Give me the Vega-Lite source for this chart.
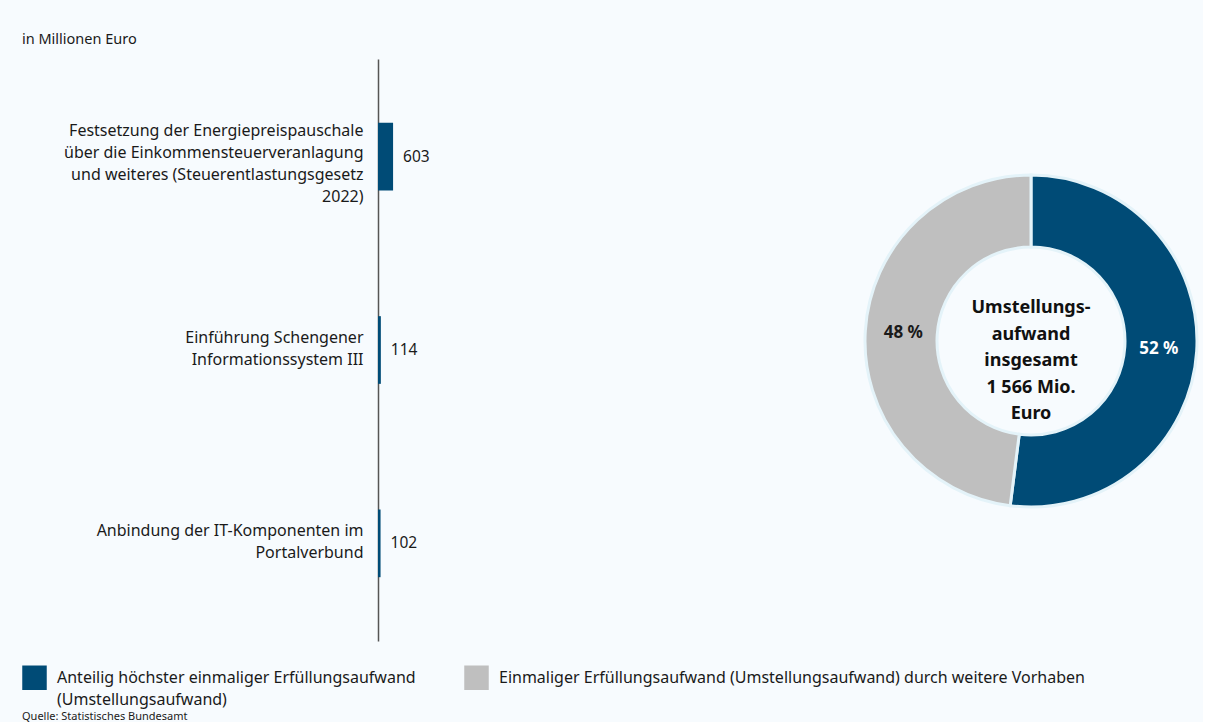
{
  "$schema": "https://vega.github.io/schema/vega-lite/v6.json",
  "background": "#f7fbfe",
  "padding": {"left": 22, "top": 31, "right": 0, "bottom": 0},
  "title": {"text": "in Millionen Euro", "anchor": "start", "fontSize": 14.5, "fontWeight": "normal", "font": "Noto Sans", "color": "#1a1a1a", "offset": 12},
  "datasets": {
    "bars": [
      {"vorhaben": "Festsetzung der Energiepreispauschale\nüber die Einkommensteuerveranlagung\nund weiteres (Steuerentlastungsgesetz\n2022)", "wert": 603},
      {"vorhaben": "Einführung Schengener\nInformationssystem III", "wert": 114},
      {"vorhaben": "Anbindung der IT-Komponenten im\nPortalverbund", "wert": 102}
    ],
    "anteile": [
      {"kategorie": "Anteilig höchster einmaliger Erfüllungsaufwand\n(Umstellungsaufwand)", "anteil": 52, "label": "52 %", "nr": 1},
      {"kategorie": "Einmaliger Erfüllungsaufwand (Umstellungsaufwand) durch weitere Vorhaben", "anteil": 48, "label": "48 %", "nr": 2}
    ],
    "mitte": [
      {"text": "Umstellungs-\naufwand\ninsgesamt\n1 566 Mio.\nEuro"}
    ]
  },
  "spacing": 281,
  "resolve": {"scale": {"color": "shared"}, "legend": {"color": "shared"}},
  "hconcat": [
    {
      "width": 200,
      "height": 582,
      "data": {"name": "bars"},
      "encoding": {
        "y": {
          "field": "vorhaben", "type": "nominal", "sort": null,
          "scale": {"paddingInner": 0.65, "paddingOuter": 0.33},
          "axis": {
            "title": null, "ticks": false, "labelExpr": "split(datum.label, '\\n')", "labelLimit": 400, "labelFontSize": 16, "labelLineHeight": 22, "labelPadding": 15,
            "labelOffset": {"condition": {"test": "indexof(datum.value, '2022') >= 0", "value": -26}, "value": -12},
            "domainColor": "#555555", "domainWidth": 1.5, "labelColor": "#1a1a1a", "labelFont": "Noto Sans"
          }
        },
        "x": {"field": "wert", "type": "quantitative", "scale": {"domain": [0, 8000]}, "axis": null}
      },
      "layer": [
        {"mark": {"type": "bar", "color": "#004b76"}},
        {"mark": {"type": "text", "align": "left", "dx": 10, "fontSize": 15.5, "color": "#1a1a1a", "font": "Noto Sans"}, "encoding": {"text": {"field": "wert", "type": "quantitative"}}}
      ]
    },
    {
      "width": 340,
      "height": 564,
      "layer": [
        {
          "data": {"name": "anteile"},
          "mark": {"type": "arc", "innerRadius": 94, "outerRadius": 166, "stroke": "#e4f3f9", "strokeWidth": 3},
          "encoding": {
            "theta": {"field": "anteil", "type": "quantitative", "stack": true},
            "order": {"field": "nr", "type": "quantitative"},
            "color": {
              "field": "kategorie", "type": "nominal",
              "scale": {"domain": ["Anteilig höchster einmaliger Erfüllungsaufwand\n(Umstellungsaufwand)", "Einmaliger Erfüllungsaufwand (Umstellungsaufwand) durch weitere Vorhaben"], "range": ["#004b76", "#bfbfbf"]},
              "legend": {
                "orient": "none", "legendX": -356, "legendY": 606, "direction": "horizontal", "columns": 2, "columnPadding": 48,
                "symbolType": "square", "symbolSize": 600, "symbolStrokeWidth": 0,
                "labelExpr": "indexof(datum.label, '\\n') >= 0 ? split(datum.label, '\\n') : [datum.label, ' ']", "labelFontSize": 16, "labelBaseline": "middle", "labelLimit": 700, "labelOffset": 10, "labelColor": "#1a1a1a", "labelFont": "Noto Sans",
                "title": "Quelle: Statistisches Bundesamt", "titleOrient": "bottom", "titleFontSize": 11, "titleFontWeight": "normal", "titleColor": "#1a1a1a", "titleFont": "Noto Sans", "titlePadding": 3, "titleLimit": 500
              }
            }
          }
        },
        {
          "data": {"name": "anteile"},
          "mark": {"type": "text", "radius": 128, "fontSize": 17, "fontWeight": "bold", "font": "Noto Sans"},
          "encoding": {
            "theta": {"field": "anteil", "type": "quantitative", "stack": true},
            "order": {"field": "nr", "type": "quantitative"},
            "detail": {"field": "kategorie", "type": "nominal"},
            "text": {"field": "label", "type": "nominal"},
            "color": {"condition": {"test": "datum.anteil > 50", "value": "#ffffff"}, "value": "#1a1a1a"}
          }
        },
        {
          "data": {"name": "mitte"},
          "mark": {"type": "text", "lineBreak": "\n", "fontSize": 18, "fontWeight": "bold", "lineHeight": 26.5, "dy": -33, "color": "#111111", "font": "Noto Sans"},
          "encoding": {"text": {"field": "text", "type": "nominal"}}
        }
      ]
    }
  ],
  "config": {"view": {"stroke": null}, "font": "Noto Sans", "style": {"guide-label": {"lineHeight": 22}}}
}
